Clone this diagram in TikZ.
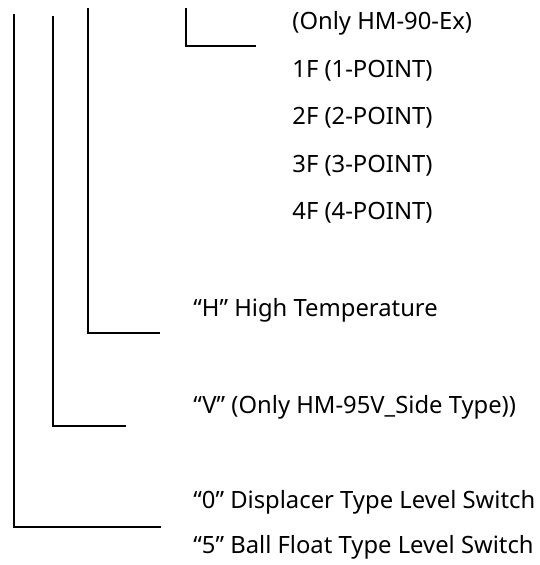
\documentclass[tikz,border=0pt]{standalone}
\usepackage{fontspec}
\setmainfont{Noto Sans}
\usetikzlibrary{positioning}
\tikzset{
    % Bracket line style
    codeline/.style={
        draw=black,
        line width=0.8pt
    },
    % Option label style
    optlabel/.style={
        anchor=west,
        inner sep=0pt,
        font=\fontsize{11.9}{14}\selectfont
    }
}

\begin{document}
\begin{tikzpicture}[x=0.5pt, y=-0.5pt]
    \useasboundingbox (0,0) rectangle (539,565);

    % Float points (top)
    \node[optlabel] (exonly) at (292,23) {(Only HM-90-Ex)};
    \node[optlabel] (onef) at (292,71) {1F (1-POINT)};
    \node[optlabel] (twof) at (292,118) {2F (2-POINT)};
    \node[optlabel] (threef) at (292,166) {3F (3-POINT)};
    \node[optlabel] (fourf) at (292,213) {4F (4-POINT)};

    % Options (bottom)
    \node[optlabel] (hightemp) at (193,310) {“H” High Temperature};
    \node[optlabel] (sidetype) at (193,407) {“V” (Only HM-95V\_Side Type))};
    \node[optlabel] (displacer) at (193,502) {“0” Displacer Type Level Switch};
    \node[optlabel] (ballfloat) at (193,547) {“5” Ball Float Type Level Switch};

    % Bracket corners
    \coordinate (typetop) at (14,14);
    \coordinate (typeend) at (161,527);
    \coordinate (sidetop) at (53,16);
    \coordinate (sideend) at (126,426);
    \coordinate (temptop) at (88,8);
    \coordinate (tempend) at (160,333);
    \coordinate (pointtop) at (186,8);
    \coordinate (pointend) at (256,46);

    % Brackets
    \draw[codeline] (typetop) |- (typeend);
    \draw[codeline] (sidetop) |- (sideend);
    \draw[codeline] (temptop) |- (tempend);
    \draw[codeline] (pointtop) |- (pointend);
\end{tikzpicture}
\end{document}
